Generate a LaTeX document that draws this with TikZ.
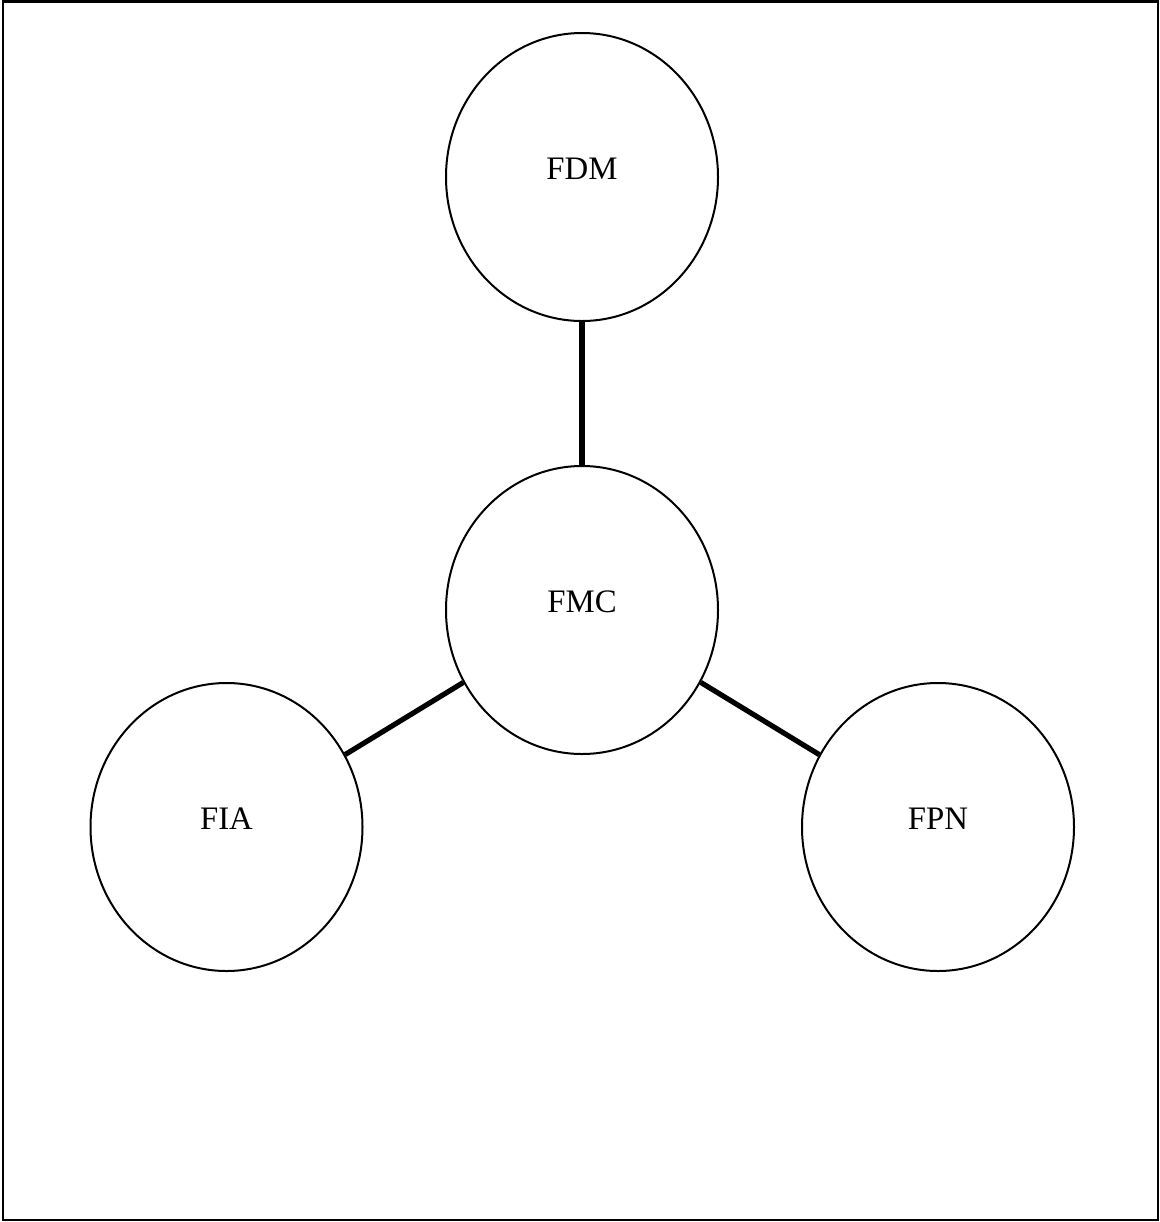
\documentclass[tikz,border=0pt]{standalone}
\usepackage{fontspec}
\setmainfont{Liberation Serif}
\usetikzlibrary{shapes.geometric}
\begin{document}
\begin{tikzpicture}[x=0.5pt,y=-0.5pt,
  bubble/.style={draw=black,line width=1pt,shape=ellipse,
    minimum width=136pt,minimum height=144pt,inner sep=0pt,fill=white},
  tag/.style={font=\fontsize{16.4}{18}\selectfont},
  link/.style={draw=black,line width=2.6pt}]
  % canvas and frame
  \useasboundingbox (0,0) rectangle (1160,1222);
  \draw[line width=1.2pt] (3,1.5) rectangle (1158,1220);
  % the four bubbles
  \node[bubble] (fdm) at (582,177) {};
  \node[bubble] (fmc) at (582,610) {};
  \node[bubble] (fia) at (226.5,827) {};
  \node[bubble] (fpn) at (938,827) {};
  % their names, set a little above centre
  \node[tag] (tfdm) at (582,169) {FDM};
  \node[tag] (tfmc) at (582,602) {FMC};
  \node[tag] (tfia) at (226.5,819) {FIA};
  \node[tag] (tfpn) at (938,819) {FPN};
  % spokes from the hub
  \draw[link] (fdm) -- (fmc);
  \draw[link] (fmc) -- (fia);
  \draw[link] (fmc) -- (fpn);
\end{tikzpicture}
\end{document}
